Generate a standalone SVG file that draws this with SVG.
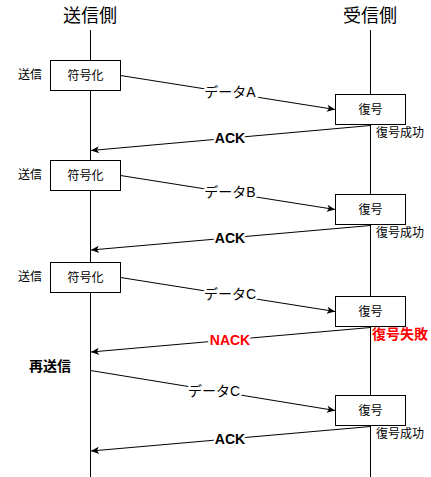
<svg xmlns="http://www.w3.org/2000/svg" width="431" height="477" viewBox="0 0 431 477">
<style>
text{font-family:"Liberation Sans","Noto Sans CJK JP",sans-serif;fill:#000;}
.hdr{font-size:18px;text-anchor:middle;}
.s12{font-size:12px;}
.mid{text-anchor:middle;dominant-baseline:central;}
.lbl{font-size:14px;text-anchor:middle;dominant-baseline:central;stroke:#fff;stroke-width:5px;paint-order:stroke;stroke-linejoin:round;}
.b{font-weight:bold;}
.red{fill:#ff0000;}
.box{fill:#fff;stroke:#000;stroke-width:1;}
.life{stroke:#000;stroke-width:1;fill:none;}
.conn line{stroke:#000;stroke-width:1;marker-end:url(#arr);}
</style>
<defs>
<marker id="arr" markerUnits="userSpaceOnUse" viewBox="0 0 10 10" markerWidth="9" markerHeight="8" refX="10" refY="5" orient="auto">
<path d="M0,0.5 L10,5 L0,9.5 L2.5,5 z" fill="#000"/>
</marker>
</defs>
<g id="lifelines">
<line class="life" x1="90.5" y1="30" x2="90.5" y2="477"/>
<line class="life" x1="370.5" y1="30" x2="370.5" y2="477"/>
</g>
<g id="headers">
<text class="hdr" x="90" y="22">送信側</text>
<text class="hdr" x="370" y="22">受信側</text>
</g>
<g class="conn" id="connectors">
<line x1="120.5" y1="75.5" x2="335" y2="109.5"/>
<line x1="370.5" y1="125.5" x2="91" y2="150.5"/>
<line x1="120.5" y1="175.5" x2="335" y2="209.5"/>
<line x1="370.5" y1="225.5" x2="91" y2="250"/>
<line x1="120.5" y1="277.5" x2="335" y2="311.5"/>
<line x1="370.5" y1="327.5" x2="91" y2="352"/>
<line x1="90.5" y1="370.5" x2="335" y2="410.5"/>
<line x1="370.5" y1="426.5" x2="91" y2="451"/>
</g>
<g id="edge-labels">
<text class="lbl" x="230" y="92">データA</text>
<text class="lbl b" x="230" y="138">ACK</text>
<text class="lbl" x="230" y="192">データB</text>
<text class="lbl b" x="230" y="238">ACK</text>
<text class="lbl" x="230" y="294">データC</text>
<text class="lbl b red" x="230" y="340">NACK</text>
<text class="lbl" x="214" y="391">データC</text>
<text class="lbl b" x="230" y="439">ACK</text>
</g>
<g id="enc1"><rect class="box" x="50.5" y="60.5" width="70" height="30"/><text class="s12 mid" x="85.5" y="75.5">符号化</text></g>
<g id="enc2"><rect class="box" x="50.5" y="160.5" width="70" height="30"/><text class="s12 mid" x="85.5" y="175.5">符号化</text></g>
<g id="enc3"><rect class="box" x="50.5" y="262.5" width="70" height="30"/><text class="s12 mid" x="85.5" y="277.5">符号化</text></g>
<g id="dec1"><rect class="box" x="335.5" y="94.5" width="70" height="30"/><text class="s12 mid" x="370.5" y="109.5">復号</text></g>
<g id="dec2"><rect class="box" x="335.5" y="194.5" width="70" height="30"/><text class="s12 mid" x="370.5" y="209.5">復号</text></g>
<g id="dec3"><rect class="box" x="335.5" y="296.5" width="70" height="30"/><text class="s12 mid" x="370.5" y="311.5">復号</text></g>
<g id="dec4"><rect class="box" x="335.5" y="395.5" width="70" height="30"/><text class="s12 mid" x="370.5" y="410.5">復号</text></g>
<g id="send-labels">
<text class="s12 mid" x="30" y="75">送信</text>
<text class="s12 mid" x="30" y="175">送信</text>
<text class="s12 mid" x="30" y="277">送信</text>
<text class="mid b" style="font-size:14px" x="50" y="366">再送信</text>
</g>
<g id="result-labels">
<text class="s12 mid" x="400" y="133">復号成功</text>
<text class="s12 mid" x="400" y="233">復号成功</text>
<text class="mid b red" style="font-size:14px" x="400" y="334">復号失敗</text>
<text class="s12 mid" x="400" y="434">復号成功</text>
</g>
</svg>
